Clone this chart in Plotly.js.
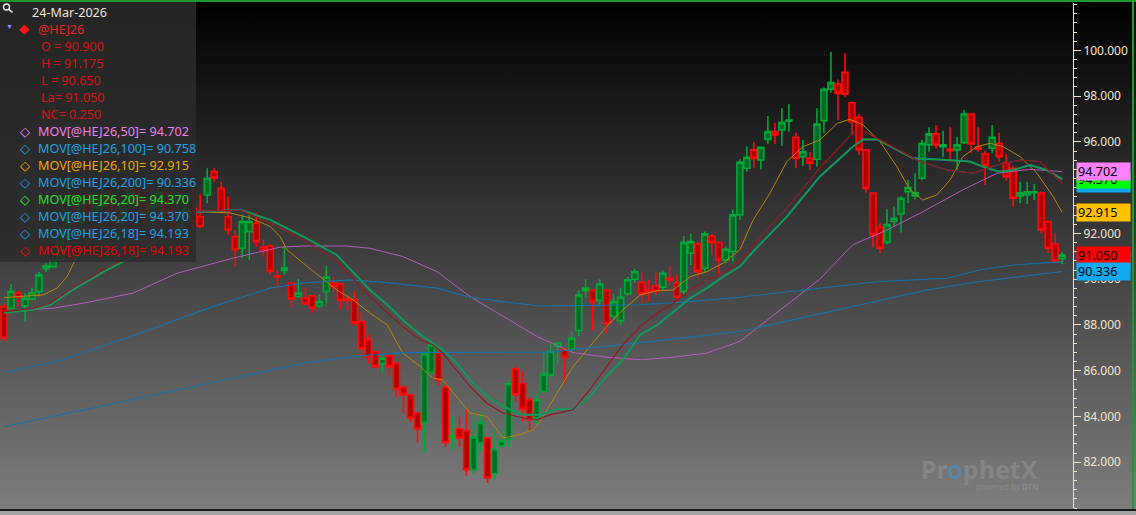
<!DOCTYPE html>
<html><head><meta charset="utf-8">
<script src="https://cdn.plot.ly/plotly-3.0.1.min.js"></script>
<style>
html,body{margin:0;padding:0;background:#000;}
#wrap{position:relative;width:1136px;height:515px;overflow:hidden;background:linear-gradient(to bottom,#000 0px,#7d7d7d 508px,#7d7d7d 515px);}
#chart{position:absolute;left:0;top:0;width:1136px;height:515px;}
.topline{position:absolute;left:0;top:0;width:1136px;height:2px;background:#1c9a2c;}
.rightline{position:absolute;left:1132px;top:0;width:2px;height:509px;background:#1c9a2c;}
.botline{position:absolute;left:0;top:509px;width:1136px;height:2px;background:#1b1b1b;}
.botstrip{position:absolute;left:0;top:511px;width:1136px;height:4px;background:#a4a4a4;}
</style></head>
<body>
<div id="wrap"><div id="chart"></div><div class="topline"></div><div class="rightline"></div><div class="botline"></div><div class="botstrip"></div></div>
<script>
// ---------------- data ----------------
const lastDate = '24-Mar-2026';
const symbol = '@HEJ26';
const opens = [88.80,88.73,89.39,88.83,89.13,89.46,90.46,90.55,90.85,92.00,
92.90,92.50,93.30,92.80,93.20,93.70,93.00,92.60,93.30,94.00,
93.30,92.70,93.20,93.80,93.00,92.30,92.80,93.10,92.73,93.68,
94.70,93.97,92.73,91.86,91.35,92.08,92.45,91.40,91.45,90.14,
90.38,89.83,89.24,89.17,89.27,88.83,89.46,89.83,89.79,89.13,
89.10,88.15,87.35,86.84,86.30,86.66,86.33,85.28,84.95,84.15,
83.74,85.92,86.77,85.28,83.06,83.45,83.38,81.67,82.84,83.06,
81.50,82.72,83.01,86.07,85.43,84.73,83.93,85.09,85.82,87.06,
86.94,86.94,87.76,89.50,89.53,89.07,89.53,88.37,88.19,89.36,
90.00,89.85,89.53,89.71,89.65,90.04,89.83,89.46,91.14,91.54,
90.48,91.89,91.60,90.84,91.21,92.81,94.85,95.65,95.21,96.11,
96.45,96.52,96.90,96.20,95.35,95.28,95.24,96.93,98.30,98.53,
99.04,97.71,97.07,95.65,93.76,92.26,91.61,92.52,92.85,93.82,
93.64,94.41,95.87,96.35,95.79,95.68,95.65,95.97,97.22,95.76,
95.47,95.72,95.94,95.09,94.85,93.64,93.68,93.78,93.76,92.52,
91.54,90.90];
const highs = [88.95,89.79,89.50,89.39,89.63,90.33,90.70,91.06,92.30,93.10,
93.30,93.60,93.70,93.40,94.00,93.90,93.30,93.50,94.30,94.40,
93.60,93.50,94.10,94.00,93.20,93.00,93.40,94.00,93.70,94.85,
94.85,94.26,93.61,92.15,92.81,92.81,92.88,91.72,91.54,90.41,
91.42,89.84,90.01,89.62,89.32,89.32,90.59,90.10,89.80,89.32,
89.49,88.59,87.57,86.84,86.69,86.69,86.36,85.38,84.99,84.16,
86.84,87.28,86.84,85.50,84.00,84.00,84.32,84.07,84.15,83.07,
83.42,83.49,85.60,86.23,85.97,84.87,85.02,86.84,87.17,87.23,
86.96,87.71,89.53,90.00,89.54,90.00,89.54,89.36,89.61,90.09,
90.44,90.33,89.97,90.29,90.38,90.58,90.19,91.89,91.98,91.64,
92.08,91.98,91.60,91.42,93.03,95.24,95.80,96.01,95.79,97.13,
96.84,97.47,97.64,96.40,96.08,95.57,97.47,98.38,99.94,98.73,
99.87,97.76,97.22,95.65,93.77,92.45,93.06,93.18,93.62,94.34,
94.63,96.08,96.64,96.74,96.49,96.64,96.23,97.39,97.23,96.64,
95.62,96.74,96.40,95.47,94.95,94.26,94.26,94.16,93.83,92.56,
91.98,91.175];
const lows = [87.28,88.53,88.80,88.15,89.10,89.24,90.33,90.52,90.75,91.80,
92.20,92.30,92.60,92.50,93.00,92.80,92.30,92.40,93.10,93.10,
92.40,92.50,93.00,92.80,92.00,92.10,92.50,92.20,92.25,93.32,
94.26,92.88,91.93,90.55,90.92,90.84,91.42,90.99,90.19,89.62,
90.19,88.80,89.18,88.88,88.54,88.73,88.95,89.46,88.66,88.66,
87.96,86.66,86.33,86.11,85.90,85.75,84.85,84.15,83.74,82.86,
82.40,85.82,85.35,82.66,82.55,82.66,81.41,81.50,82.47,81.09,
81.24,82.62,82.66,84.65,83.78,83.42,83.68,85.02,85.75,86.26,
85.46,86.84,87.49,89.17,87.76,88.88,87.64,88.22,88.00,89.27,
89.83,88.95,89.02,89.31,89.53,89.75,88.98,89.31,90.62,90.04,
90.33,91.06,90.11,90.70,90.77,92.59,94.70,94.85,94.80,95.91,
95.91,95.82,96.45,94.85,94.95,94.77,94.92,96.38,98.15,96.96,
97.95,96.30,95.43,93.78,91.42,91.16,91.54,92.33,92.04,93.33,
93.48,94.34,95.57,95.72,95.35,95.14,94.77,95.91,95.50,95.57,
94.12,95.50,95.14,94.31,93.14,93.32,93.29,93.46,91.98,91.16,
90.72,90.65];
const closes = [87.42,89.46,89.21,89.17,89.41,90.19,90.58,90.84,92.10,92.90,
92.50,93.30,92.80,93.20,93.70,93.00,92.60,93.30,94.00,93.30,
92.70,93.20,93.80,93.00,92.30,92.80,93.10,92.50,92.30,94.41,
94.41,92.95,92.15,91.28,92.52,92.52,91.64,91.25,90.36,90.10,
90.49,89.13,89.39,88.92,88.73,89.02,90.09,89.68,89.07,89.07,
88.08,86.96,86.59,86.18,86.55,86.18,85.20,84.95,83.93,83.45,
86.74,87.13,85.60,82.86,83.17,83.06,81.67,83.10,83.74,81.31,
82.58,82.95,85.43,84.95,84.32,83.86,84.73,85.86,86.84,87.21,
86.59,87.42,89.31,89.61,89.02,89.79,88.05,89.02,89.21,89.97,
90.33,89.36,89.45,89.46,90.26,89.97,89.21,91.60,91.64,90.33,
91.98,91.60,90.84,91.31,92.81,95.11,95.33,95.28,95.76,96.45,
96.30,96.84,96.96,95.28,95.57,95.07,96.78,98.30,98.59,98.12,
98.08,96.88,95.65,93.97,91.93,91.35,92.39,92.66,93.54,94.01,
93.78,95.94,96.35,95.87,95.87,95.62,95.87,97.22,95.91,95.68,
94.95,96.20,95.35,94.48,93.54,93.78,93.82,93.82,92.15,91.35,
90.80,91.05];

// moving averages: bar position -> value
const ma10I = [0,2.3,5.6,7.6,9.0,10.4,12.3,14.7,17.0,27.5,32.2,35.1,38.0,39.4,40.4,42.7,45.1,47.5,49.8,52.2,54.7,56.9,59.4,61.2,62.6,64.6,66.5,68.9,71.2,73.6,75.5,76.5,78.9,81.2,83.6,86.0,88.3,90.8,93.2,95.5,97.9,100.3,102.6,105.0,106.9,109.3,111.7,114.0,116.4,118.9,120.7,122.6,125.0,127.4,129.3,131.1,133.1,135.0,136.8,138.8,140.7,142.6,145.0,147.4,149.7,151];
const ma10V = [89.20,89.24,89.31,89.62,90.11,90.99,91.72,92.46,92.90,92.95,92.90,92.68,92.30,91.86,91.28,90.70,90.11,89.53,89.10,88.52,88.00,86.77,86.18,85.68,85.60,84.87,84.15,84.00,83.06,83.20,83.42,83.79,85.00,86.18,87.06,87.93,88.66,89.31,89.50,89.53,90.11,90.33,90.70,91.28,92.59,93.76,95.14,95.79,96.08,96.81,96.99,96.74,96.01,94.92,93.90,93.46,93.68,94.34,95.35,95.79,95.94,95.79,95.35,94.63,93.61,92.915];
const ma20I = [0,4.1,6.6,9.8,14.7,18.4,27.5,33.7,38.0,42.7,47.5,50.4,52.2,54.7,56.9,59.4,61.2,62.6,64.6,66.5,68.9,71.2,74.1,76.5,78.9,81.2,83.6,86.0,88.3,90.8,93.2,95.5,97.9,100.3,102.6,105.0,106.9,111.7,116.4,121.1,122.6,124.6,126.9,129.7,134.6,137.8,140.3,142.1,144.0,146.4,148.8,151];
const ma20V = [88.53,88.66,88.88,89.53,90.41,90.99,92.95,93.03,92.59,91.86,91.06,90.11,89.53,88.88,88.22,87.57,87.21,86.91,86.33,85.60,84.87,84.44,84.07,84.07,84.32,84.32,84.87,85.75,86.48,87.57,88.00,88.59,89.17,89.61,90.11,90.55,91.21,92.73,94.48,95.79,96.11,96.11,95.72,95.28,95.21,95.14,94.85,94.70,94.77,94.99,94.77,94.37];
const ma18I = [0,4.1,6.6,9.8,14.7,18.4,27.5,33.7,38.0,42.7,47.5,52.2,56.9,59.4,61.2,62.6,66.5,68.9,71.2,74.1,76.1,77.9,81.2,83.6,86.0,88.3,90.8,93.2,95.5,97.9,100.3,102.6,105.0,106.9,111.7,116.4,121.1,122.6,125.0,130.7,134.6,138.3,141.7,145.0,147.8,151];
const ma18V = [88.58,88.72,88.95,89.62,90.50,91.05,92.98,93.02,92.45,91.72,90.77,89.24,87.93,87.35,87.13,86.77,85.31,84.58,84.15,83.93,83.86,84.07,84.29,85.17,86.18,87.13,87.93,88.52,88.95,89.53,89.97,90.26,90.77,91.50,93.10,94.85,96.38,96.49,96.08,95.14,94.77,94.63,94.99,95.21,95.14,94.193];
const ma50I = [0,7.0,11.3,18.4,24.7,32.7,39.4,42.7,48.9,52.2,56.9,61.8,66.5,71.2,76.1,81.2,86.0,90.8,95.5,100.3,105.0,116.4,121.1,126.0,130.7,136.8,141.7,146.4,151];
const ma50V = [88.59,88.73,88.95,89.39,90.26,90.92,91.40,91.45,91.45,91.35,90.99,90.33,89.24,88.37,87.49,86.79,86.59,86.48,86.59,86.77,87.28,90.00,91.50,92.15,92.88,93.90,94.63,94.80,94.702];
const ma100I = [0,8.4,19.4,29.8,38.0,42.7,49.4,54.7,61.8,66.5,71.2,76.5,90.8,97.9,105.0,125.0,134.6,139.3,144.0,151];
const ma100V = [85.91,86.48,87.64,88.80,89.61,89.83,89.97,89.85,89.61,89.21,89.02,88.83,88.88,89.02,89.21,89.90,90.04,90.41,90.62,90.758];
const ma200I = [0,38.0,42.7,49.8,56.9,77.9,86.0,95.5,105.0,131.7,139.3,151];
const ma200V = [83.55,86.04,86.33,86.62,86.79,86.81,87.06,87.38,87.71,89.53,89.90,90.336];

const maLabels = ['MOV[@HEJ26,50]','MOV[@HEJ26,100]','MOV[@HEJ26,10]','MOV[@HEJ26,200]','MOV[@HEJ26,20]','MOV[@HEJ26,20]','MOV[@HEJ26,18]','MOV[@HEJ26,18]'];
const maLast = [94.702,90.758,92.915,90.336,94.370,94.370,94.193,94.193];
const yTicks = [82,84,86,88,90,92,94,96,98,100];

// ---------------- styles ----------------
const maTextColors = ['#ee82ee','#1ea2e8','#f0aa00','#1ea2e8','#22e022','#1ea2e8','#1ea2e8','#e80000'];
const maDiamondColors = ['#ff88ff','#1ea2e8','#ffb400','#1ea2e8','#22ff22','#1ea2e8','#1ea2e8','#ff0000'];
const FONT = 'Noto Sans, Open Sans, sans-serif';
const AXC = '#efe3c6';

const idx = opens.map((_, i) => i);
const n = closes.length;

function line(xs, ys, color, width) {
  return {type:'scatter', mode:'lines', x:xs, y:ys, line:{color:color, width:width}, hoverinfo:'skip'};
}

const traces = [
  {type:'candlestick', x:idx, open:opens, high:highs, low:lows, close:closes,
   increasing:{line:{color:'#00a83a', width:1.6}, fillcolor:'#006b25'},
   decreasing:{line:{color:'#ff0a0a', width:1.6}, fillcolor:'#b00000'},
   whiskerwidth:0, hoverinfo:'skip'},
  line(ma50I, ma50V, '#b65cbe', 1.0),
  line(ma100I, ma100V, '#1672aa', 1.1),
  line(ma10I, ma10V, '#b8860b', 1.0),
  line(ma200I, ma200V, '#1672aa', 1.1),
  line(ma20I, ma20V, '#1a7fb6', 2.0),
  line(ma20I, ma20V, '#0ea52a', 1.3),
  line(ma18I, ma18V, '#1672aa', 1.0),
  line(ma18I, ma18V, '#a01212', 1.1)
];

const PW = 1073, PT = 3, PB = 508;
const px = v => v / PW;
const py = v => (PB - v) / (PB - PT);

const ann = [];
function txt(x, y, text, color, size, extra) {
  ann.push(Object.assign({xref:'paper', yref:'paper', x:px(x), y:py(y), xanchor:'left', yanchor:'middle',
    text:text, showarrow:false, font:{family:FONT, size:size, color:color}}, extra || {}));
}

// header
txt(29.5, 12.8, lastDate, '#ece6da', 12.6);
txt(3.5, 26.5, '▼', '#8c8cff', 7);
txt(17, 28.5, '◆', '#ff1414', 12.6);
txt(35.5, 29, symbol, '#e02424', 12.6);
const lo = n - 1;
const hdrLines = [
  'O = ' + opens[lo].toFixed(3),
  'H = ' + highs[lo].toFixed(3),
  'L = ' + lows[lo].toFixed(3),
  'La= ' + closes[lo].toFixed(3),
  'NC= ' + (closes[lo] - closes[lo-1]).toFixed(3)
];
hdrLines.forEach((t, k) => txt(38.5, 46.3 + 17 * k, t, '#d41414', 12.6));
maLabels.forEach((lab, k) => {
  const yy = 131.5 + 17.05 * k;
  txt(18, yy, '◇', maDiamondColors[k], 12.6);
  txt(35.5, yy, lab + '= ' + maLast[k].toFixed(3), maTextColors[k], 12.6);
});

// price tags on the right (drawn in stacking order, later ones on top)
function tag(v, color) {
  ann.push({xref:'paper', yref:'y', x:px(1075.5), y:v, xanchor:'left', yanchor:'middle',
    text:v.toFixed(3), showarrow:false, bgcolor:color, width:51, height:15, borderpad:1, align:'left',
    font:{family:FONT, size:12.6, color:'#000'}});
}
tag(maLast[6], '#10aaf0');
tag(maLast[4], '#00ff00');
tag(maLast[0], '#ff80ff');
tag(maLast[2], '#ffc000');
tag(maLast[1], '#10aaf0');
tag(closes[lo], '#ff0000');
tag(maLast[3], '#10aaf0');

// watermark
ann.push({xref:'paper', yref:'paper', x:px(979), y:py(469), xanchor:'center', yanchor:'middle', showarrow:false,
  text:'<b>Pr<span style="color:#5a86a2">o</span>phetX</b>', font:{family:FONT, size:25, color:'#858585'}});
ann.push({xref:'paper', yref:'paper', x:px(1041), y:py(486.5), xanchor:'right', yanchor:'middle', showarrow:false,
  text:'powered by <b>DTN</b>', font:{family:FONT, size:8, color:'#888888'}});

const shapes = [
  {type:'rect', xref:'paper', yref:'paper', x0:0, x1:px(196), y0:py(262), y1:py(0),
   fillcolor:'rgba(43,43,43,0.86)', line:{width:0}, layer:'above'},
  {type:'circle', xref:'paper', yref:'paper', x0:px(3.5), x1:px(9.5), y0:py(10), y1:py(4),
   line:{color:'#f0f0f0', width:1.3}, layer:'above'},
  {type:'line', xref:'paper', yref:'paper', x0:px(8.8), x1:px(12.5), y0:py(9.3), y1:py(12.5),
   line:{color:'#f0f0f0', width:1.6}, layer:'above'}
];

const layout = {
  width:1136, height:515,
  margin:{l:0, r:1136 - PW, t:PT, b:515 - PB},
  paper_bgcolor:'rgba(0,0,0,0)', plot_bgcolor:'rgba(0,0,0,0)',
  showlegend:false, hovermode:false,
  boxgap:0.15, boxgroupgap:0,
  xaxis:{range:[-0.57, 152.54], visible:false, rangeslider:{visible:false}, fixedrange:true},
  yaxis:{side:'right', range:[80.0, 102.07], tickmode:'array', tickvals:yTicks,
    ticktext:yTicks.map(v => v.toFixed(3)), ticks:'outside', ticklen:7, tickwidth:1, tickcolor:AXC,
    showline:true, linecolor:AXC, linewidth:1, showgrid:false, zeroline:false, fixedrange:true,
    tickfont:{family:FONT, size:12, color:'#f2e6cc'},
    minor:{tickmode:'linear', tick0:80, dtick:0.4, ticks:'outside', ticklen:3, tickcolor:AXC, tickwidth:1, showgrid:false}},
  shapes:shapes, annotations:ann
};

Plotly.newPlot('chart', traces, layout, {displayModeBar:false, staticPlot:true});
</script>
</body></html>
